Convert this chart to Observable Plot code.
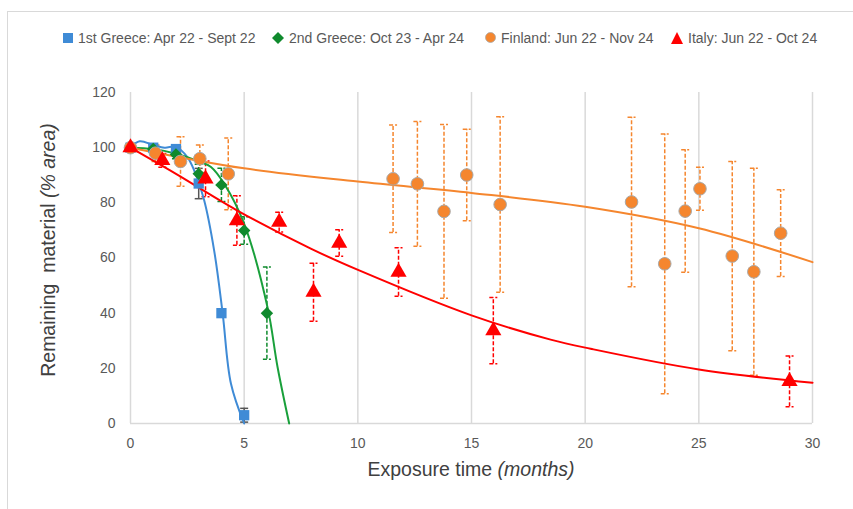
<!DOCTYPE html>
<html><head><meta charset="utf-8">
<script src="https://cdn.jsdelivr.net/npm/d3@7"></script>
<script src="https://cdn.jsdelivr.net/npm/@observablehq/plot@0.6"></script>
<style>
body{margin:0;background:#fff;font-family:"Liberation Sans",Arial,sans-serif;}
#wrap{position:relative;width:853px;height:509px;overflow:hidden;background:#fff;}
#frame{position:absolute;left:7px;top:11px;width:900px;height:600px;border-left:1.5px solid #d9d9d9;border-top:1.5px solid #d9d9d9;pointer-events:none;}
#legend{position:relative;height:50px;}
.li{position:absolute;top:28px;height:19px;display:flex;align-items:center;font-size:14px;color:#595959;white-space:nowrap;}
.li svg{margin-right:5px;}
#chart svg{display:block;}
</style></head>
<body>
<div id="wrap">
  <div id="frame"></div>
  <div id="legend"></div>
  <div id="chart"></div>
</div>
<script>
// ---------- data ----------
const seriesNames = ["1st Greece: Apr 22 - Sept 22", "2nd Greece: Oct 23 - Apr 24", "Finland: Jun 22 - Nov 24", "Italy: Jun 22 - Oct 24"];

const greece1X   = [0, 1, 2, 3, 4, 5];
const greece1Y   = [100, 100, 99.5, 87, 40, 3];
const greece1Err = [0, 0, 0, 5.5, 0, 2.5];

const greece2X   = [0, 1, 2, 3, 4, 5, 6];
const greece2Y   = [100, 99.5, 97.5, 90.5, 86.5, 70, 40];
const greece2Err = [0, 1, 1.5, 3.5, 6, 5, 16.7];

const finlandX   = [0, 1.1, 2.2, 3.05, 4.3, 11.55, 12.62, 13.79, 14.79, 16.26, 22.04, 23.5, 24.4, 25.05, 26.47, 27.42, 28.6];
const finlandY   = [100, 98, 95, 96, 90.5, 88.7, 86.9, 76.9, 90.1, 79.4, 80.3, 57.9, 77, 85.1, 60.7, 55, 69];
const finlandErr = [0, 3, 9, 5, 13, 19.5, 22.6, 31.5, 16.6, 31.8, 30.7, 47.1, 22.2, 7.8, 34.3, 37.5, 15.7];

const italyX   = [0, 1.4, 3.3, 4.68, 6.54, 8.05, 9.18, 11.79, 15.96, 28.99];
const italyY   = [100, 95.4, 88.7, 73.6, 73, 47.6, 65.4, 54.9, 33.7, 15.3];
const italyErr = [0, 2.5, 6.5, 9, 3.6, 10.5, 4.8, 8.8, 12, 9.2];

// trend curves
const greece1CurveX = [0, 0.4, 1, 1.5, 2, 2.5, 2.8, 3.24, 3.68, 4.05, 4.42, 5.0];
const greece1CurveY = [100, 102.3, 101, 100, 100.3, 96.6, 91.8, 80.9, 62.7, 40.2, 14.4, 0];
const greece2CurveX = [0, 1, 2, 3, 3.54, 4.12, 5.0, 6.03, 6.47, 6.98];
const greece2CurveY = [100, 99.5, 97.8, 95, 93, 86.9, 72.4, 42, 20.4, 0];
const finlandCurveX = [0, 5, 10, 15, 20, 25, 30];
const finlandCurveY = [100, 92.5, 87.7, 83.6, 78.6, 70.8, 58.5];
const italyCurveX = [0, 2, 4.68, 7.93, 10.06, 15, 18.48, 20.24, 25, 30];
const italyCurveY = [100, 90.5, 77.3, 63.4, 55.5, 39.2, 30.4, 27.1, 19.6, 14.8];

const xTicks = [0, 5, 10, 15, 20, 25, 30];
const yTicks = [0, 20, 40, 60, 80, 100, 120];

// ---------- styles ----------
const colors = {blue: "#3f8bd6", green: "#0f8a2d", greenLine: "#19a03b", orange: "#f5862e", red: "#ff0000", grey: "#555555"};

const pts = (xs, ys, es) => xs.map((x, i) => ({x, y: ys[i], err: es[i]}));
const crv = (xs, ys) => xs.map((x, i) => ({x, y: ys[i]}));

const g1 = pts(greece1X, greece1Y, greece1Err);
const g2 = pts(greece2X, greece2Y, greece2Err);
const fi = pts(finlandX, finlandY, finlandErr);
const it = pts(italyX, italyY, italyErr);

const capSymbol = {draw(ctx) { ctx.moveTo(-4, 0); ctx.lineTo(4, 0); }};

function errMarks(data, color, dash) {
  const d = data.filter(p => p.err > 0);
  return [
    Plot.ruleX(d, {x: "x", y1: p => Math.max(0, p.y - p.err), y2: p => p.y + p.err, stroke: color, strokeWidth: 1.5, strokeDasharray: dash}),
    Plot.dot(d, {x: "x", y: p => p.y + p.err, symbol: capSymbol, fill: "none", stroke: color, strokeWidth: 1.5, strokeDasharray: dash}),
    Plot.dot(d, {x: "x", y: p => Math.max(0, p.y - p.err), symbol: capSymbol, fill: "none", stroke: color, strokeWidth: 1.5, strokeDasharray: dash})
  ];
}

const chart = Plot.plot({
  width: 853,
  height: 459,
  marginLeft: 130,
  marginRight: 41,
  marginTop: 42,
  marginBottom: 86,
  style: {fontSize: "14px", fontFamily: "'Liberation Sans', Arial, sans-serif", color: "#595959", background: "white"},
  x: {domain: [0, 30], ticks: xTicks, tickSize: 0, tickPadding: 15, label: null},
  y: {domain: [0, 120], ticks: yTicks, tickSize: 0, tickPadding: 15, label: null},
  marks: [
    Plot.ruleX(xTicks, {stroke: "#d9d9d9", strokeWidth: 1.5}),
    Plot.ruleY([0], {stroke: "#d9d9d9", strokeWidth: 1.5}),
    ...errMarks(g1, colors.grey, null),
    ...errMarks(g2, colors.green, "4,2"),
    ...errMarks(fi, colors.orange, "4,2"),
    ...errMarks(it, colors.red, "4,2"),
    Plot.line(crv(greece1CurveX, greece1CurveY), {x: "x", y: "y", stroke: colors.blue, strokeWidth: 2, curve: "catmull-rom"}),
    Plot.line(crv(greece2CurveX, greece2CurveY), {x: "x", y: "y", stroke: colors.greenLine, strokeWidth: 2, curve: "catmull-rom"}),
    Plot.line(crv(finlandCurveX, finlandCurveY), {x: "x", y: "y", stroke: colors.orange, strokeWidth: 2, curve: "catmull-rom"}),
    Plot.line(crv(italyCurveX, italyCurveY), {x: "x", y: "y", stroke: colors.red, strokeWidth: 2, curve: "catmull-rom"}),
    Plot.dot(g1, {x: "x", y: "y", symbol: "square", r: 5.8, fill: colors.blue, stroke: "none"}),
    Plot.dot(g2, {x: "x", y: "y", symbol: "diamond2", r: 5.6, fill: colors.green, stroke: "none"}),
    Plot.dot(fi, {x: "x", y: "y", symbol: "circle", r: 6.3, fill: colors.orange, stroke: "#a8a8a8", strokeWidth: 1}),
    Plot.dot(it, {x: "x", y: "y", symbol: "triangle", r: 6, fill: colors.red, stroke: "none"})
  ]
});

const svg = d3.select(chart);
const xt = svg.append("text")
  .attr("x", 471).attr("y", 419)
  .attr("text-anchor", "middle").attr("dominant-baseline", "central")
  .attr("fill", "#404040").style("font-size", "19.5px");
xt.append("tspan").text("Exposure time ");
xt.append("tspan").style("font-style", "italic").text("(months)");

const yt = svg.append("text")
  .attr("transform", "translate(48,200) rotate(-90)")
  .attr("text-anchor", "middle").attr("dominant-baseline", "central")
  .attr("fill", "#404040").style("font-size", "19.5px").style("white-space", "pre");
yt.append("tspan").text("Remaining  material ");
yt.append("tspan").style("font-style", "italic").text("(% area)");

document.getElementById("chart").appendChild(chart);

// ---------- legend ----------
const legendMarkers = [
  `<svg width="10" height="10"><rect x="0" y="0" width="10" height="10" fill="${colors.blue}"/></svg>`,
  `<svg width="12" height="12"><path d="M6 0 L12 6 L6 12 L0 6 Z" fill="${colors.green}"/></svg>`,
  `<svg width="11" height="11"><circle cx="5.5" cy="5.5" r="5" fill="${colors.orange}" stroke="#a8a8a8" stroke-width="0.8"/></svg>`,
  `<svg width="12" height="12"><path d="M6 0 L12 12 L0 12 Z" fill="${colors.red}"/></svg>`
];
const legendLeft = [63, 272, 485, 671];
const legend = document.getElementById("legend");
seriesNames.forEach((name, i) => {
  const item = document.createElement("div");
  item.className = "li";
  item.style.left = legendLeft[i] + "px";
  item.innerHTML = legendMarkers[i] + `<span>${name}</span>`;
  legend.appendChild(item);
});
</script>
</body></html>
